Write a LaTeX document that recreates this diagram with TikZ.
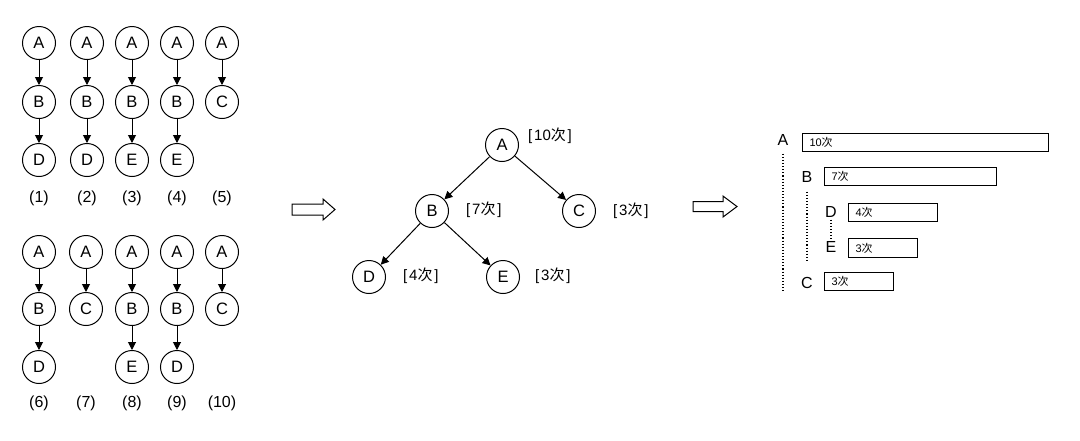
\documentclass[tikz,border=0pt]{standalone}
\usepackage{fontspec}
\setmainfont{Liberation Sans}
\newfontfamily\cjk{Noto Sans CJK SC}
\usetikzlibrary{arrows.meta}
\newcommand{\ci}{{\cjk 次}}
\newcommand{\brk}[1]{[\hspace{1.8pt}#1\hspace{1.8pt}]}
\begin{document}
\begin{tikzpicture}[x=1pt,y=-1pt,
  cnode/.style={circle,draw,line width=1pt,minimum size=33pt,inner sep=0pt,font=\fontsize{16.5}{19}\selectfont},
  lab/.style={font=\fontsize{16}{19}\selectfont},
  cnt/.style={anchor=west,inner sep=0pt,font=\fontsize{15}{18}\selectfont},
  arr/.style={line width=1pt,-{Triangle[length=8pt,width=8pt]}},
  hollow/.style={draw,line width=1pt,fill=white},
  letter/.style={inner sep=0pt,font=\fontsize{16}{19}\selectfont},
  bar/.style={draw,line width=1pt,anchor=north west,inner ysep=0pt,inner xsep=7pt,align=left,font=\fontsize{11}{13}\selectfont},
  dots/.style={line width=1.1pt,dotted}
]
\useasboundingbox (0,0) rectangle (1080,440);

% ---------- top row of paths ----------
\node[cnode] (p1a) at (39,43) {A};
\node[cnode] (p1b) at (39,102) {B};
\node[cnode] (p1c) at (39,160) {D};
\node[lab] (l1) at (39,198) {(1)};
\node[cnode] (p2a) at (87,43) {A};
\node[cnode] (p2b) at (87,102) {B};
\node[cnode] (p2c) at (87,160) {D};
\node[lab] (l2) at (87,198) {(2)};
\node[cnode] (p3a) at (132,43) {A};
\node[cnode] (p3b) at (132,102) {B};
\node[cnode] (p3c) at (132,160) {E};
\node[lab] (l3) at (132,198) {(3)};
\node[cnode] (p4a) at (177,43) {A};
\node[cnode] (p4b) at (177,102) {B};
\node[cnode] (p4c) at (177,160) {E};
\node[lab] (l4) at (177,198) {(4)};
\node[cnode] (p5a) at (222,43) {A};
\node[cnode] (p5b) at (222,102) {C};
\node[lab] (l5) at (222,198) {(5)};
\foreach \i in {1,2,3,4}{
  \draw[arr] (p\i a) -- (p\i b);
  \draw[arr] (p\i b) -- (p\i c);
}
\draw[arr] (p5a) -- (p5b);

% ---------- bottom row of paths ----------
\node[cnode] (p6a) at (39,252) {A};
\node[cnode] (p6b) at (39,309) {B};
\node[cnode] (p6c) at (39,367) {D};
\node[lab] (l6) at (39,403) {(6)};
\node[cnode] (p7a) at (86,252) {A};
\node[cnode] (p7b) at (86,309) {C};
\node[lab] (l7) at (86,403) {(7)};
\node[cnode] (p8a) at (132,252) {A};
\node[cnode] (p8b) at (132,309) {B};
\node[cnode] (p8c) at (132,367) {E};
\node[lab] (l8) at (132,403) {(8)};
\node[cnode] (p9a) at (177,252) {A};
\node[cnode] (p9b) at (177,309) {B};
\node[cnode] (p9c) at (177,367) {D};
\node[lab] (l9) at (177,403) {(9)};
\node[cnode] (p10a) at (222,252) {A};
\node[cnode] (p10b) at (222,309) {C};
\node[lab] (l10) at (222,403) {(10)};
\foreach \i in {6,8,9}{
  \draw[arr] (p\i a) -- (p\i b);
  \draw[arr] (p\i b) -- (p\i c);
}
\draw[arr] (p7a) -- (p7b);
\draw[arr] (p10a) -- (p10b);

% ---------- hollow arrows ----------
\draw[hollow] (292,204) -- (323,204) -- (323,199) -- (335,209.5) -- (323,220) -- (323,215) -- (292,215) -- cycle;
\draw[hollow] (693,201.5) -- (723,201.5) -- (723,196) -- (737,206.5) -- (723,217) -- (723,211.5) -- (693,211.5) -- cycle;

% ---------- merged tree ----------
\node[cnode] (tA) at (502,145) {A};
\node[cnode] (tB) at (432,211) {B};
\node[cnode] (tC) at (579,211) {C};
\node[cnode] (tD) at (369,277) {D};
\node[cnode] (tE) at (503,277) {E};
\draw[arr] (tA) -- (tB);
\draw[arr] (tA) -- (tC);
\draw[arr] (tB) -- (tD);
\draw[arr] (tB) -- (tE);
\node[cnt] (cA) at (528,136) {\brk{10\ci}};
\node[cnt] (cB) at (466,210) {\brk{7\ci}};
\node[cnt] (cC) at (613,211) {\brk{3\ci}};
\node[cnt] (cD) at (403,276) {\brk{4\ci}};
\node[cnt] (cE) at (535,276) {\brk{3\ci}};

% ---------- bar view ----------
\node[letter] (rA) at (783,140) {A};
\node[letter] (rB) at (807,177) {B};
\node[letter] (rD) at (831,212) {D};
\node[letter] (rE) at (831,247) {E};
\node[letter] (rC) at (807,283) {C};
\node[bar,text width=232pt,minimum height=18pt] (bA) at (802,133) {10\ci};
\node[bar,text width=158pt,minimum height=18pt] (bB) at (824,167) {7\ci};
\node[bar,text width=75pt,minimum height=18pt] (bD) at (848,203) {4\ci};
\node[bar,text width=55pt,minimum height=19pt] (bE) at (848,238) {3\ci};
\node[bar,text width=55pt,minimum height=18pt] (bC) at (824,272) {3\ci};
\coordinate (endA) at (783,291);
\coordinate (endB) at (807,263);
\draw[dots] ([yshift=-8pt]rA.south) -- (endA);
\draw[dots] ([yshift=-9pt]rB.south) -- (endB);
\draw[dots] ([yshift=-2pt]rD.south) -- ([yshift=2pt]rE.north);
\end{tikzpicture}
\end{document}
